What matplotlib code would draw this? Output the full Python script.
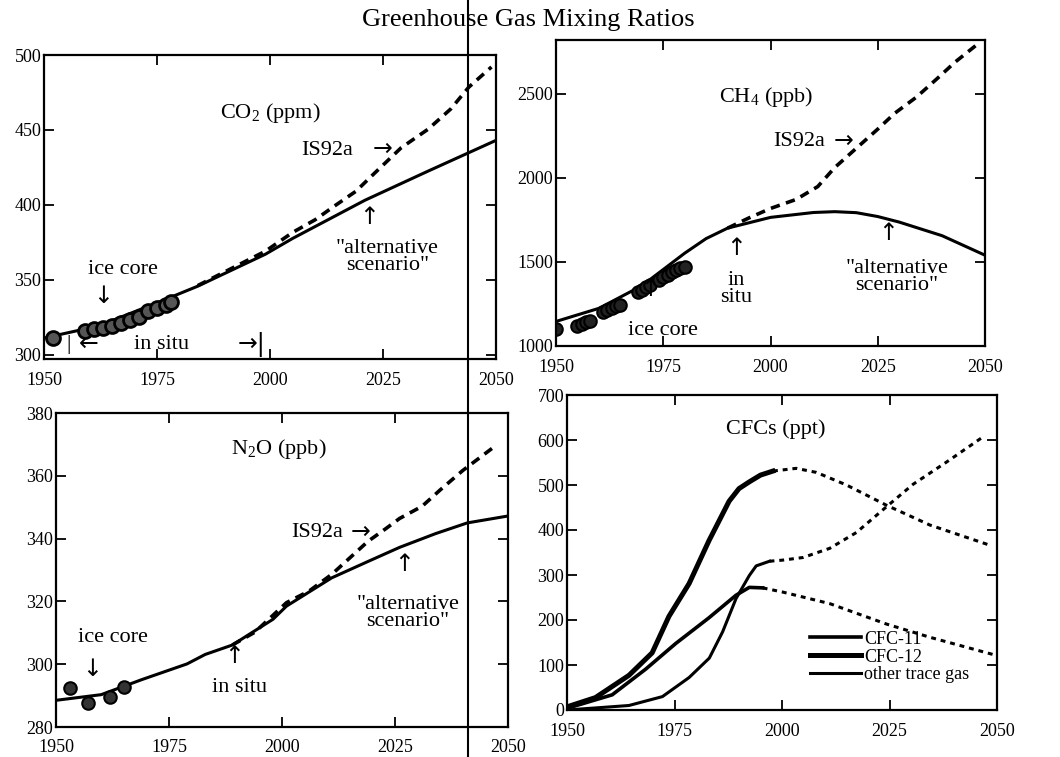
import matplotlib
matplotlib.use("Agg")
import matplotlib.pyplot as plt
from matplotlib.lines import Line2D

plt.rcParams['font.family'] = ['Liberation Serif', 'DejaVu Serif']
plt.rcParams['mathtext.fontset'] = 'custom'
plt.rcParams['mathtext.rm'] = 'Liberation Serif'

# ---- CO2 (ppm) ----
co2_years = [1950, 1962, 1975, 1984, 1999, 2005, 2021, 2035, 2050]
co2_alt = [311, 319, 334.5, 345.6, 367, 377.5, 403, 422.5, 443]
co2_is92a_years = [1984, 1999, 2005, 2010, 2014, 2019, 2023, 2029, 2035, 2040, 2044, 2049]
co2_is92a = [346, 369, 381.5, 390, 398.6, 409, 420.7, 438, 450.5, 464, 478.6, 492]
co2_ice_years = [1952, 1959, 1961, 1963, 1965, 1967, 1969, 1971, 1973, 1975, 1977, 1978]
co2_ice = [311, 316, 317, 318, 319, 321, 323, 325, 329, 331, 333, 335]

# ---- CH4 (ppb) ----
ch4_years = [1950, 1960, 1970, 1980, 1985, 1990, 2000, 2010, 2015, 2020, 2025, 2030, 2040, 2050]
ch4_alt = [1146, 1224, 1358, 1552, 1639, 1701, 1765, 1794, 1799, 1793, 1770, 1737, 1656, 1540]
ch4_is92a_years = [1990, 1995, 2000, 2006, 2011, 2015, 2020, 2025, 2029, 2034, 2039, 2043, 2048]
ch4_is92a = [1701, 1762, 1818, 1872, 1948, 2062, 2176, 2290, 2385, 2480, 2594, 2688, 2790]
ch4_ice_years = [1950, 1955, 1956, 1957, 1958, 1961, 1962, 1963, 1964, 1965, 1969, 1970,
                 1971, 1972, 1974, 1975, 1976, 1977, 1978, 1979, 1980]
ch4_ice = [1100, 1120, 1130, 1140, 1150, 1205, 1215, 1225, 1235, 1245, 1320, 1335,
           1350, 1365, 1395, 1410, 1425, 1440, 1455, 1465, 1470]

# ---- N2O (ppb) ----
n2o_years = [1950, 1960, 1969, 1979, 1983, 1989, 1998, 2001, 2011, 2019, 2026, 2034, 2041, 2050]
n2o_alt = [288.5, 290.3, 295.1, 300.1, 303.1, 306.1, 314.3, 318.5, 327.5, 332.7, 337.2, 341.6, 345.0, 347.2]
n2o_is92a_years = [1989, 1994, 2001, 2006, 2011, 2019, 2023, 2026, 2031, 2035, 2040, 2047]
n2o_is92a = [306.1, 310.2, 319.6, 323.3, 328.6, 339.1, 343.2, 346.4, 350.3, 355.5, 361.7, 369.3]
n2o_ice_years = [1953, 1957, 1962, 1965]
n2o_ice = [292.3, 287.7, 289.4, 292.7]

# ---- CFCs (ppt) ----
cfc11_years = [1950, 1960.5, 1968.3, 1975.3, 1983, 1989.3, 1992.4, 1995.5]
cfc11 = [3.7, 33.7, 90.8, 147.9, 204.8, 255, 272.5, 271.4]
cfc11_proj_years = [1995.5, 2000.2, 2011.1, 2024.3, 2034.4, 2049.2]
cfc11_proj = [271.4, 262, 236.4, 191, 161.6, 123]

cfc12_years = [1950, 1956.6, 1964.4, 1969.8, 1973.7, 1978.4, 1983, 1987.7, 1990, 1992.4, 1995, 1997.9]
cfc12 = [7, 27.5, 77, 127, 208, 281, 376, 464, 492, 507, 522, 531]
cfc12_proj_years = [1997.9, 2003.3, 2008, 2015, 2024.3, 2034.4, 2048.4]
cfc12_proj = [531, 537, 528, 500, 455, 411, 366]

other_years = [1950, 1964.4, 1972.2, 1978.4, 1983.1, 1986.2, 1989.3, 1992.4, 1994, 1997.1]
other = [0, 10, 29.8, 72.2, 115.4, 173.9, 247.4, 298.9, 320.3, 330.6]
other_proj_years = [1997.1, 2000.2, 2004.9, 2011.1, 2017.3, 2024.3, 2030.5, 2038.3, 2046.9]
other_proj = [330.6, 333.1, 338.9, 359.3, 394.4, 451.7, 501.7, 551.2, 607.9]

year_ticks = [1950, 1975, 2000, 2025, 2050]

W, H = 1060, 757
fig = plt.figure(figsize=(W / 100, H / 100), dpi=100)


def make_axes(x0, y0, x1, y1):
    # pixel box (left, top, right, bottom) -> figure fraction
    return fig.add_axes([x0 / W, 1 - y1 / H, (x1 - x0) / W, (y1 - y0) / H])


def style(ax, ylim, yticks):
    ax.set_xlim(1950, 2050)
    ax.set_ylim(*ylim)
    ax.set_xticks(year_ticks)
    ax.set_yticks(yticks)
    ax.tick_params(direction='in', top=True, right=True, length=7, width=1.3,
                   labelsize=13)
    ax.tick_params(axis='x', pad=9)
    ax.tick_params(axis='y', pad=2)
    for s in ax.spines.values():
        s.set_linewidth(1.6)


TXT = dict(fontsize=16, ha='center', va='center')
ARW = dict(fontsize=17, ha='center', va='center', family=['DejaVu Sans'])
dash = (0, (2.6, 1.8))

# CO2 panel
ax1 = make_axes(44, 55, 496, 359)
ax1.plot(co2_years, co2_alt, color='black', lw=2.2)
ax1.plot(co2_is92a_years, co2_is92a, color='black', lw=2.6, linestyle=dash)
ax1.plot(co2_ice_years, co2_ice, 'o', ms=10, mfc='#555555', mec='black', mew=2)
style(ax1, (297, 500), [300, 350, 400, 450, 500])
ax1.text(2000, 461, 'CO$_2$ (ppm)', **TXT)
ax1.text(2012.7, 436, 'IS92a', **TXT)
ax1.text(2025, 437, '→', **ARW)
ax1.text(2022, 392, '↑', **ARW)
ax1.text(2026, 365, '"alternative\nscenario"', linespacing=0.9, **TXT)
ax1.text(1967.5, 357, 'ice core', **TXT)
ax1.text(1963, 339, '↓', **ARW)
ax1.text(1955.5, 307, '|', **TXT)
ax1.text(1960, 307, '←', **ARW)
ax1.text(1976, 307, 'in situ', **TXT)
ax1.text(1996, 307, '→|', **ARW)

# CH4 panel
ax2 = make_axes(556, 40, 985, 346)
ax2.plot(ch4_years, ch4_alt, color='black', lw=2.2)
ax2.plot(ch4_is92a_years, ch4_is92a, color='black', lw=2.6, linestyle=dash)
ax2.plot(ch4_ice_years, ch4_ice, 'o', ms=9, mfc='#222222', mec='black', mew=1.5)
style(ax2, (1000, 2820), [1000, 1500, 2000, 2500])
ax2.text(1999, 2480, 'CH$_4$ (ppb)', **TXT)
ax2.text(2006.6, 2215, 'IS92a', **TXT)
ax2.text(2017, 2220, '→', **ARW)
ax2.text(1992, 1580, '↑', **ARW)
ax2.text(1992, 1340, 'in\nsitu', linespacing=0.9, **TXT)
ax2.text(2027.5, 1675, '↑', **ARW)
ax2.text(2029.4, 1410, '"alternative\nscenario"', linespacing=0.9, **TXT)
ax2.text(1975, 1095, 'ice core', **TXT)
ax2.text(1972, 1340, '↑', **ARW)

# N2O panel
ax3 = make_axes(56, 413, 508, 727)
ax3.plot(n2o_years, n2o_alt, color='black', lw=2.2)
ax3.plot(n2o_is92a_years, n2o_is92a, color='black', lw=2.6, linestyle=dash)
ax3.plot(n2o_ice_years, n2o_ice, 'o', ms=9, mfc='#333333', mec='black', mew=1.5)
style(ax3, (280, 380), [280, 300, 320, 340, 360, 380])
ax3.text(1999.3, 368.5, 'N$_2$O (ppb)', **TXT)
ax3.text(2007.8, 342, 'IS92a', **TXT)
ax3.text(2017.3, 342.3, '→', **ARW)
ax3.text(2027, 332, '↑', **ARW)
ax3.text(2027.8, 316.3, '"alternative\nscenario"', linespacing=0.9, **TXT)
ax3.text(1962.7, 308.4, 'ice core', **TXT)
ax3.text(1958, 298.5, '↓', **ARW)
ax3.text(1989.3, 302.5, '↑', **ARW)
ax3.text(1990.5, 292.5, 'in situ', **TXT)

# CFC panel
ax4 = make_axes(567, 395, 997, 710)
cdash = (0, (1.6, 1.6))
ax4.plot(cfc11_years, cfc11, color='black', lw=2.6, label='CFC-11')
ax4.plot(cfc11_proj_years, cfc11_proj, color='black', lw=2.2, linestyle=cdash)
ax4.plot(cfc12_years, cfc12, color='black', lw=3.6, label='CFC-12')
ax4.plot(cfc12_proj_years, cfc12_proj, color='black', lw=2.2, linestyle=cdash)
ax4.plot(other_years, other, color='black', lw=2.2, label='other trace gas')
ax4.plot(other_proj_years, other_proj, color='black', lw=2.2, linestyle=cdash)
style(ax4, (0, 700), [0, 100, 200, 300, 400, 500, 600, 700])
ax4.text(1998.6, 624, 'CFCs (ppt)', **TXT)
ax4.legend(loc='lower left', bbox_to_anchor=(0.54, 0.05), frameon=False,
           fontsize=13, handlelength=2.8, handletextpad=0.2, labelspacing=0.05,
           borderpad=0.1)

fig.text(528 / W, 1 - 20 / H, 'Greenhouse Gas Mixing Ratios', fontsize=19,
         ha='center', va='center')

# scan fold line
fig.add_artist(Line2D([468 / W, 468 / W], [0, 1], color='black', lw=1.5,
                      transform=fig.transFigure))

fig.savefig('out.png', dpi=100, facecolor='white')
